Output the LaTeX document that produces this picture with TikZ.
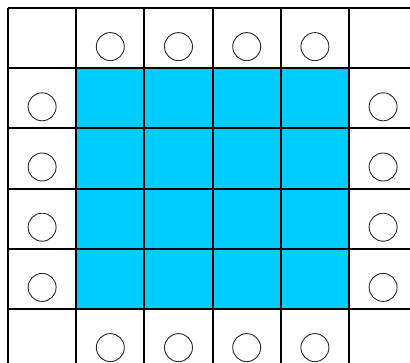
\documentclass[tikz,border=0pt]{standalone}
\definecolor{cellblue}{RGB}{0,204,255}
\definecolor{ringgray}{RGB}{40,40,40}
\tikzset{
  gridline/.style={line width=2pt, black},
  ring/.style={circle, draw=ringgray, line width=0.9pt, minimum size=28pt, inner sep=0pt}
}
\begin{document}
\begin{tikzpicture}[x=1pt,y=-1pt]
\useasboundingbox (0,0) rectangle (410,362);
\clip (0,0) rectangle (410,362);
\def\cw{68.2}
\def\ch{60.2}
% blue interior
\fill[cellblue] (8+\cw,8+\ch) rectangle (8+5*\cw,8+5*\ch);
% grid
\foreach \i in {0,...,6} {
  \draw[gridline] (8+\i*\cw,8) -- (8+\i*\cw,8+6*\ch);
  \draw[gridline] (8,8+\i*\ch) -- (8+6*\cw,8+\i*\ch);
}
% circles top and bottom rows
\foreach \c [count=\k] in {1,2,3,4} {
  \node[ring] (t\k) at (8+\c*\cw+0.5*\cw, 8+0.5*\ch+8.5) {};
  \node[ring] (b\k) at (8+\c*\cw+0.5*\cw, 8+5.5*\ch+8.5) {};
  \node[ring] (l\k) at (8+0.5*\cw, 8+\c*\ch+0.5*\ch+8.5) {};
  \node[ring] (r\k) at (8+5.5*\cw, 8+\c*\ch+0.5*\ch+8.5) {};
}
\end{tikzpicture}
\end{document}
